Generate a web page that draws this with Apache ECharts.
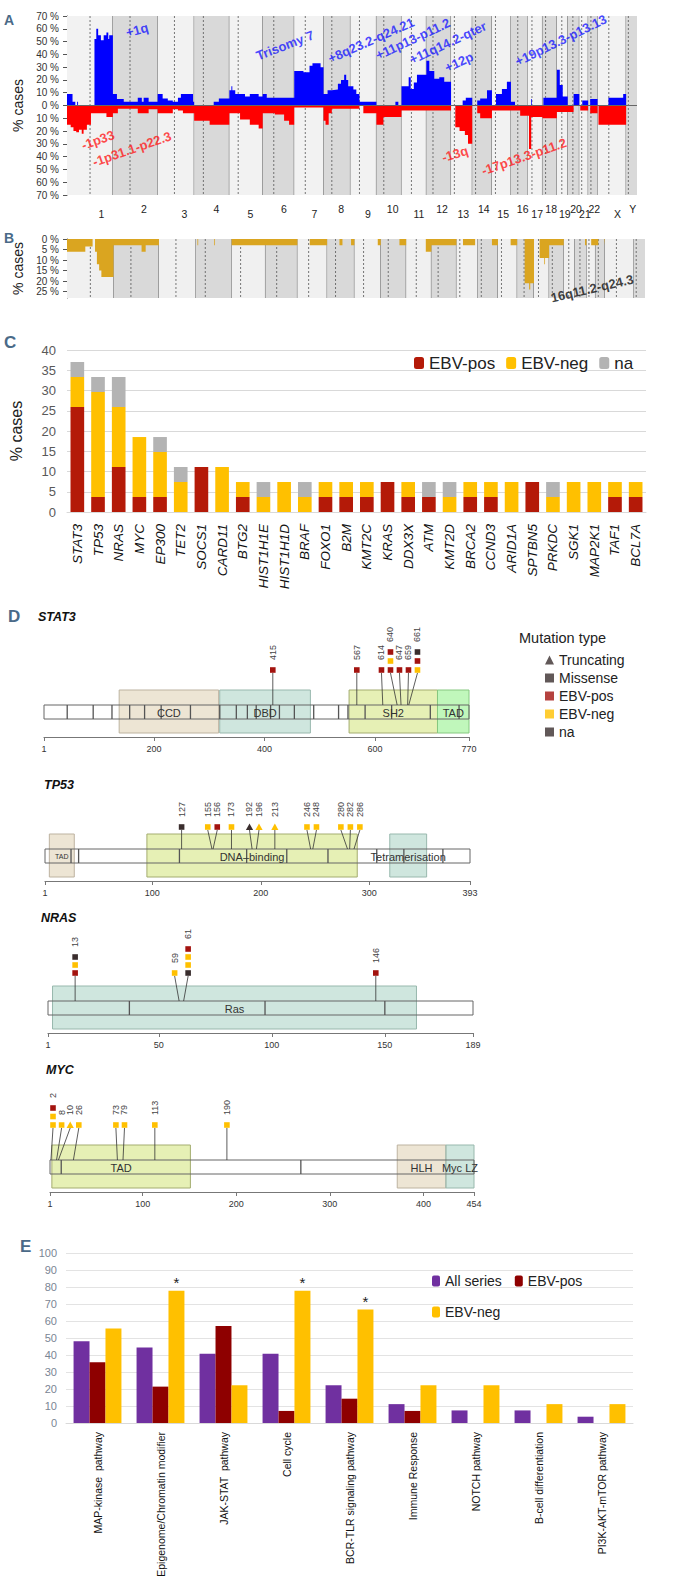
<!DOCTYPE html>
<html><head><meta charset="utf-8">
<script src="https://cdn.jsdelivr.net/npm/echarts@6.0.0/dist/echarts.min.js"></script>
<style>html,body{margin:0;padding:0;background:#fff}#main{width:674px;height:1589px}</style>
</head><body><div id="main"></div>
<script>
// ================= DATA =================
// Panel A / B : genome layout (Mb)
const chromNames = ['1','2','3','4','5','6','7','8','9','10','11','12','13','14','15','16','17','18','19','20','21','22','X','Y'];
const chromLengthsMb = [249,243,198,191,181,171,159,146,141,136,135,134,115,107,103,90,81,78,59,63,48,51,155,59];
const centromeresMb = [125,93,91,50,48,60,60,45,49,40,54,36,18,18,19,37,24,17,27,28,13,15,61,12];

// Panel A gains: per chromosome [startMb, endMb, % cases]
const gainSegments = [
 [[0,30,9],[30,45,3],[55,60,3],[149,159,52],[159,169,60],[169,184,55],[184,199,51],[199,214,55],[214,224,57],[224,229,52],[229,249,55]],
 [[0,22,9],[22,59,5],[59,135,3],[135,157,6],[157,167,3],[167,194,6],[194,243,3]],
 [[0,27,9],[27,55,5.5],[55,82,4],[82,110,3],[110,126,6],[126,192,9],[192,198,3]],
 [[106,134,3],[134,191,5.5]],
 [[0,11,12],[11,16,15],[16,32,12],[32,85,9],[85,111,7],[111,159,9],[159,181,7]],
 [[0,22,9],[22,171,6]],
 [[0,50,27],[50,83,26],[83,99,31],[99,143,33],[143,159,30]],
 [[0,22,9],[22,45,12],[45,78,12.5],[78,95,17],[95,112,20],[112,123,24],[123,134,20],[134,146,15]],
 [[0,16,15],[16,32,12.5],[32,49,9],[49,141,3]],
 [[103,119,3]],
 [[0,39,15],[39,50,22],[50,67,13],[67,84,18],[84,135,24]],
 [[0,16,35],[16,43,27],[43,70,21],[70,97,22],[97,134,18.5]],
 [[63,80,4],[80,115,6]],
 [[27,43,4],[43,80,5.5],[80,107,12]],
 [[22,54,9],[54,81,13],[81,103,18.5]],
 [[0,22,3]],
 [[20,24,5]],
 [[5,78,6]],
 [[0,16,28],[16,32,16],[32,59,7]],
 [[32,63,9]],
 [[16,48,4]],
 [[11,51,5]],
 [[59,139,6],[139,155,9]],
 []
];
// Panel A losses: per chromosome [startMb, endMb, % cases]
const lossSegments = [
 [[0,20,15],[20,35,17],[35,50,20],[50,65,21],[65,80,19],[80,90,22],[90,108,19],[108,130,15],[130,214,6],[214,249,9]],
 [[0,27,6],[27,135,2.5],[135,194,6],[194,243,3]],
 [[0,82,6],[82,110,3],[110,137,4],[137,198,6]],
 [[0,84,12],[84,191,15]],
 [[0,58,6],[58,111,11],[111,159,15],[159,181,18]],
 [[0,66,6],[66,116,7],[116,143,12],[143,171,15]],
 [[0,159,1.5]],
 [[0,11,12],[11,28,15],[28,45,6],[45,146,2.5]],
 [[0,49,2.5],[70,141,6]],
 [[0,38,15],[38,136,9]],
 [[0,135,4]],
 [[0,134,4]],
 [[23,46,17],[46,75,20],[75,92,23],[92,115,30]],
 [[27,43,6],[43,107,10]],
 [[0,103,4]],
 [[0,50,4],[50,90,8]],
 [[0,8,8],[8,20,34],[20,81,9]],
 [[0,78,10]],
 [[0,59,5]],
 [[0,32,5]],
 [[5,48,4]],
 [[11,51,6]],
 [[5,155,15]],
 []
];
// Panel A annotations: [text, genomeMb, %cases, angle, kind]
const aAnnotations = [
 ['+1q',380,59,15,'gain'],
 ['Trisomy 7',1183,47,21,'gain'],
 ['+8q23.2-q24.21',1650,51,24,'gain'],
 ['+11p13-p11.2',1877,52,25,'gain'],
 ['+11q14.2-qter',2067,49,25,'gain'],
 ['+12p',2127,34,25,'gain'],
 ['+19p13.3-p13.13',2680,51,26,'gain'],
 ['-1p33',168,-27,20,'loss'],
 ['-1p31.1-p22.3',353,-34,19,'loss'],
 ['-13q',2105,-38,17,'loss'],
 ['-17p13.3-p11.2',2480,-40,19,'loss']
];
// Panel B segments: per chromosome [startMb, endMb, % cases]
const bSegments = [
 [[0,98,6],[98,137,3.5],[150,160,6],[160,172,12],[172,184,15],[184,249,18]],
 [[0,150,3],[150,172,6],[172,243,3]],
 [],
 [[8,12,3],[98,102,3]],
 [[0,181,3]],
 [[0,171,3]],
 [[66,159,3]],
 [[66,82,3],[128,146,3]],
 [[125,141,3]],
 [[100,136,3]],
 [[105,135,6]],
 [[0,134,3]],
 [[35,100,3]],
 [[75,107,3]],
 [[68,103,3]],
 [[40,64,21],[64,70,24],[70,90,21]],
 [[30,55,9],[55,59,12],[59,81,9]],
 [[0,78,3]],
 [],
 [[55,63,3]],
 [[25,48,3]],
 [[0,15,3],[48,51,3]],
 [],
 []
];
const bAnnotation = ['16q11.2-q24.3',2810,23.5,13];
const bTicks = [0,5,10,15,20,25];

// Panel C
const cGenes = ['STAT3','TP53','NRAS','MYC','EP300','TET2','SOCS1','CARD11','BTG2','HIST1H1E','HIST1H1D','BRAF','FOXO1','B2M','KMT2C','KRAS','DDX3X','ATM','KMT2D','BRCA2','CCND3','ARID1A','SPTBN5','PRKDC','SGK1','MAP2K1','TAF1','BCL7A'];
const cEbvPos = [25.93,3.70,11.11,3.70,3.70,0,11.11,0,3.70,0,0,0,3.70,3.70,3.70,7.41,3.70,3.70,0,3.70,3.70,0,7.41,0,0,0,3.70,3.70];
const cEbvNeg = [7.41,25.93,14.81,14.81,11.11,7.41,0,11.11,3.70,3.70,7.41,3.70,3.70,3.70,3.70,0,3.70,0,3.70,3.70,3.70,7.41,0,3.70,7.41,7.41,3.70,3.70];
const cNa     = [3.70,3.70,7.41,0,3.70,3.70,0,0,0,3.70,0,3.70,0,0,0,0,0,3.70,3.70,0,0,0,0,3.70,0,0,0,0];

// Panel D : proteins
const stat3Exons = [43,90,124,156,183,213,266,319,349,369,385,411,427,454,489,534,551,582,630,700,752];
const stat3Domains = [['CCD',137,317,'beige'],['DBD',319,483,'teal'],['SH2',553,713,'lime'],['TAD',713,770,'green']];
const stat3Mutations = [[415,['sq-pos']],[567,['sq-pos']],[614,['sq-pos']],[640,['sq-pos','sq-neg','sq-pos']],[647,['sq-pos']],[659,['sq-pos']],[661,['sq-neg','sq-pos','sq-na']]];
const stat3Ticks = [1,200,400,600,770];

const tp53Exons = [25,32,125,187,224,262,307,332,368];
const tp53Domains = [['TAD',5,28,'beige'],['DNA\u2013binding',95,289,'lime'],['Tetramerisation',319,353,'teal']];
const tp53Mutations = [[127,['sq-na']],[155,['sq-neg']],[156,['sq-pos']],[173,['sq-neg']],[192,['tri-na']],[196,['tri-neg']],[213,['tri-neg']],[246,['sq-neg']],[248,['sq-neg']],[280,['sq-neg']],[282,['sq-neg']],[286,['sq-neg']]];
const tp53Ticks = [1,100,200,300,393];

const nrasExons = [37,97,150];
const nrasDomains = [['Ras',3,164,'teal']];
const nrasMutations = [[13,['sq-pos','sq-neg','sq-na']],[59,['sq-neg']],[61,['sq-na','sq-neg','sq-neg','sq-pos']],[146,['sq-pos']]];
const nrasTicks = [1,50,100,150,189];

const mycExons = [13,269];
const mycDomains = [['TAD',3,151,'lime'],['HLH',372,424,'beige'],['Myc LZ',424,454,'teal']];
const mycMutations = [[2,['sq-neg','sq-neg','sq-pos']],[8,['sq-neg']],[10,['tri-neg']],[26,['sq-neg']],[73,['sq-neg']],[79,['sq-neg']],[113,['sq-neg']],[190,['sq-neg']]];
const mycTicks = [1,100,200,300,400,454];

const proteinNames = ['STAT3','TP53','NRAS','MYC'];
const proteinLengths = [770,393,189,454];
const mutationLegend = ['Truncating','Missense','EBV-pos','EBV-neg','na'];

// Panel E
const eCategories = ['MAP-kinase  pathway','Epigenome/Chromatin modifier','JAK-STAT  pathway','Cell cycle','BCR-TLR signaling pathway','Immune Response','NOTCH pathway','B-cell differentiation','PI3K-AKT-mTOR pathway'];
const eAllSeries = [48.1,44.4,40.7,40.7,22.2,11.1,7.4,7.4,3.7];
const eEbvPos = [35.7,21.4,57.1,7.1,14.3,7.1,0,0,0];
const eEbvNeg = [55.6,77.8,22.2,77.8,66.7,22.2,22.2,11.1,11.1];
const eSignificant = [false,true,false,true,true,false,false,false,false];

// ================= LAYOUT / STYLE =================
const FONT = 'Liberation Sans, Arial, sans-serif';
const NARROW = 'Liberation Sans Narrow, Liberation Sans, Arial, sans-serif';
const GAIN = '#0000ff', LOSS = '#ff0000', GOLD = '#daa520';
const C_POS = '#b41a08', C_NEG = '#ffc000', C_NA = '#b3b3b3';
const M_COL = {pos:'#a3130f', neg:'#ffc000', na:'#3a2e2e'};
const domainFill = {beige:'rgba(220,204,170,0.5)', teal:'rgba(160,205,190,0.5)', lime:'rgba(210,228,120,0.55)', green:'rgba(130,240,120,0.5)'};
const domainStroke = {beige:'#bdb3a0', teal:'#98b8ad', lime:'#a4ad70', green:'#86c880'};
const proteinLayout = [
  {left:44, right:469, axisY:737, rise:67, step:9, spread:9},
  {left:45, right:470, axisY:881, rise:54, step:9, spread:9.5},
  {left:48, right:473, axisY:1033, rise:60, step:8, spread:13.5},
  {left:50, right:474, axisY:1192, rise:67, step:8.5, spread:8.6}
];
const proteinSpecs = [
  {len:proteinLengths[0], exons:stat3Exons, domains:stat3Domains, muts:stat3Mutations, ticks:stat3Ticks},
  {len:proteinLengths[1], exons:tp53Exons, domains:tp53Domains, muts:tp53Mutations, ticks:tp53Ticks},
  {len:proteinLengths[2], exons:nrasExons, domains:nrasDomains, muts:nrasMutations, ticks:nrasTicks},
  {len:proteinLengths[3], exons:mycExons, domains:mycDomains, muts:mycMutations, ticks:mycTicks}
];
const domainLabelSize = {'1:TAD':7};

// ================= HELPERS =================
const chromStart = []; let acc = 0;
chromLengthsMb.forEach(l => { chromStart.push(acc); acc += l; });
const genomeLen = acc;
const qMid = chromLengthsMb.map((l,i) => chromStart[i] + (centromeresMb[i] + l) / 2);
const oddVals = qMid.filter((v,i) => i % 2 === 0);
const evenVals = qMid.filter((v,i) => i % 2 === 1);
function chromLabel(v){ let b=0, d=1e9; qMid.forEach((q,i)=>{ if(Math.abs(q-v)<d){d=Math.abs(q-v); b=i;} }); return chromNames[b]; }

function profile(segs, sign){
  const pts = [[0,0]]; let last = 0;
  segs.forEach((list, ci) => list.forEach(([s,e,v]) => {
    const gs = chromStart[ci] + s, ge = chromStart[ci] + e;
    if (gs > last + 1e-9) { pts.push([last,0],[gs,0]); }
    pts.push([gs,sign*v],[ge,sign*v]);
    last = ge;
  }));
  pts.push([last,0],[genomeLen,0]);
  return pts;
}

function chromBg(light, dark){
  return function(params, api){
    const i = params.dataIndex, cs = params.coordSys;
    const x0 = api.coord([chromStart[i], 0])[0];
    const x1 = api.coord([chromStart[i] + chromLengthsMb[i], 0])[0];
    const xc = api.coord([chromStart[i] + centromeresMb[i], 0])[0];
    const ch = [
      {type:'rect', shape:{x:x0, y:cs.y, width:x1-x0, height:cs.height}, style:{fill: i%2 ? dark : light}},
      {type:'line', shape:{x1:xc, y1:cs.y, x2:xc, y2:cs.y+cs.height}, style:{stroke:'#555', lineWidth:0.8, lineDash:[2,2]}}
    ];
    if (i < chromNames.length - 1) ch.push({type:'line', shape:{x1:x1, y1:cs.y, x2:x1, y2:cs.y+cs.height}, style:{stroke:'#555', lineWidth:0.9}});
    return {type:'group', children:ch};
  };
}

function spreadPositions(xs, d, lo){
  const cl = [];
  const startOf = c => Math.max(c.sumAdj / c.n, c.first === 0 ? lo : -Infinity);
  xs.forEach((x,i) => {
    let c = {first:i, n:1, sumAdj:x};
    while (cl.length){
      const p = cl[cl.length-1];
      if (startOf(p) + p.n * d > startOf(c)) {
        c = {first:p.first, n:p.n + c.n, sumAdj:p.sumAdj + c.sumAdj - c.n * p.n * d};
        cl.pop();
      } else break;
    }
    cl.push(c);
  });
  const out = [];
  cl.forEach(c => { const s = startOf(c); for (let k=0;k<c.n;k++) out.push(s + k*d); });
  return out;
}

function proteinRenderer(k){
  const P = proteinSpecs[k], L = proteinLayout[k];
  return function(params, api){
    const cs = params.coordSys;
    const Ya = cs.y + cs.height;
    const X = a => api.coord([a, 0])[0];
    const bbTop = Ya - 32, bbH = 14, boxTop = Ya - 47, boxH = 43;
    const ch = [];
    ch.push({type:'rect', shape:{x:X(1), y:bbTop, width:X(P.len)-X(1), height:bbH}, style:{fill:'#fff'}});
    P.domains.forEach(d => ch.push({type:'rect', shape:{x:X(d[1]), y:boxTop, width:X(d[2])-X(d[1]), height:boxH}, style:{fill:domainFill[d[3]], stroke:domainStroke[d[3]], lineWidth:1}}));
    ch.push({type:'rect', shape:{x:X(1), y:bbTop, width:X(P.len)-X(1), height:bbH}, style:{fill:'none', stroke:'#666', lineWidth:1}});
    P.exons.forEach(e => ch.push({type:'line', shape:{x1:X(e), y1:bbTop, x2:X(e), y2:bbTop+bbH}, style:{stroke:'#555', lineWidth:1.3}}));
    P.domains.forEach(d => ch.push({type:'text', style:{text:d[0], x:(X(d[1])+X(d[2]))/2, y:bbTop+bbH/2+0.5, align:'center', verticalAlign:'middle', fontSize:domainLabelSize[k+':'+d[0]] || 11, fontFamily:NARROW, fill:'#333'}}));
    const tx = P.muts.map(m => X(m[0]));
    const sx = spreadPositions(tx, L.spread, X(1) + 3);
    const base = Ya - L.rise;
    P.muts.forEach((m,j) => {
      ch.push({type:'line', shape:{x1:sx[j], y1:base+3, x2:tx[j], y2:bbTop}, style:{stroke:'#333', lineWidth:0.8}});
      m[1].forEach((code,r) => {
        const [shape, col] = code.split('-');
        const cy = base - r * L.step;
        if (shape === 'tri') ch.push({type:'polygon', shape:{points:[[sx[j],cy-3.5],[sx[j]+3.6,cy+3],[sx[j]-3.6,cy+3]]}, style:{fill:M_COL[col]}});
        else ch.push({type:'rect', shape:{x:sx[j]-2.8, y:cy-2.8, width:5.6, height:5.6}, style:{fill:M_COL[col]}});
      });
      const topY = base - (m[1].length - 1) * L.step;
      ch.push({type:'text', x:sx[j], y:topY - 10, rotation:Math.PI/2, style:{text:String(m[0]), x:0, y:0, align:'left', verticalAlign:'middle', fontSize:9, fontFamily:FONT, fill:'#444'}});
    });
    return {type:'group', children:ch};
  };
}

// ================= OPTION =================
const grids = [
  {left:67, right:37, top:16, height:179},          // A
  {left:67, right:29, top:239, height:59},          // B
  {left:67, right:28, top:350, height:162},         // C
];
proteinLayout.forEach(L => grids.push({left:L.left, width:L.right-L.left, top:L.axisY-110, height:110}));
grids.push({left:66, right:41, top:1253, height:170}); // E

const chromLabelStyle = {fontSize:10.5, color:'#222', fontFamily:NARROW, hideOverlap:false};
const xAxes = [
  {gridIndex:0, type:'value', position:'bottom', min:0, max:genomeLen, axisLine:{show:false, onZero:false}, axisTick:{show:false}, splitLine:{show:false},
   axisLabel:Object.assign({customValues:oddVals, formatter:chromLabel, margin:13}, chromLabelStyle)},
  {gridIndex:0, type:'value', position:'bottom', min:0, max:genomeLen, axisLine:{show:false, onZero:false}, axisTick:{show:false}, splitLine:{show:false},
   axisLabel:Object.assign({customValues:evenVals, formatter:chromLabel, margin:8}, chromLabelStyle)},
  {gridIndex:1, type:'value', min:0, max:genomeLen, show:false},
  {gridIndex:2, type:'category', data:cGenes, axisTick:{show:false}, axisLine:{lineStyle:{color:'#d9d9d9'}},
   axisLabel:{rotate:90, interval:0, fontStyle:'italic', fontSize:13.5, color:'#111', margin:12, fontFamily:FONT}}
];
proteinSpecs.forEach((P,k) => xAxes.push({gridIndex:3+k, type:'value', min:1, max:P.len,
  axisLine:{show:true, lineStyle:{color:'#777', width:1.2}}, splitLine:{show:false},
  axisTick:{show:true, customValues:P.ticks, length:4, lineStyle:{color:'#777'}},
  axisLabel:{customValues:P.ticks, fontSize:9, color:'#333', margin:7, fontFamily:FONT, hideOverlap:false}}));
xAxes.push({gridIndex:7, type:'category', data:eCategories, axisTick:{show:false}, axisLine:{lineStyle:{color:'#d9d9d9'}},
  axisLabel:{rotate:90, interval:0, fontSize:10.5, color:'#111', margin:9, fontFamily:FONT}});

const yAxes = [
  {gridIndex:0, type:'value', min:-70, max:70, interval:10, splitLine:{show:false},
   axisLine:{show:true, lineStyle:{color:'#555'}}, axisTick:{show:true, length:4, lineStyle:{color:'#555'}},
   axisLabel:{formatter:v => Math.abs(v) + ' %', fontSize:10, color:'#333', margin:8, fontFamily:FONT, hideOverlap:false},
   name:'% cases', nameLocation:'middle', nameGap:42, nameTextStyle:{fontSize:14, color:'#222', fontFamily:FONT}},
  {gridIndex:1, type:'value', min:0, max:28, inverse:true, splitLine:{show:false},
   axisLine:{show:true, lineStyle:{color:'#555'}}, axisTick:{show:true, length:4, customValues:bTicks, lineStyle:{color:'#555'}},
   axisLabel:{customValues:bTicks, formatter:v => v + ' %', fontSize:10, color:'#333', margin:8, fontFamily:FONT, hideOverlap:false},
   name:'% cases', nameLocation:'middle', nameGap:42, nameTextStyle:{fontSize:14, color:'#222', fontFamily:FONT}},
  {gridIndex:2, type:'value', min:0, max:40, interval:5, axisLine:{show:false}, axisTick:{show:false},
   splitLine:{lineStyle:{color:'#d9d9d9'}}, axisLabel:{fontSize:13, color:'#595959', margin:11, fontFamily:FONT},
   name:'% cases', nameLocation:'middle', nameGap:43, nameTextStyle:{fontSize:16, color:'#222', fontFamily:FONT}}
];
proteinSpecs.forEach((P,k) => yAxes.push({gridIndex:3+k, type:'value', min:0, max:1, show:false}));
yAxes.push({gridIndex:7, type:'value', min:0, max:100, interval:10, axisLine:{show:false}, axisTick:{show:false},
  splitLine:{lineStyle:{color:'#e3e3e3'}}, axisLabel:{fontSize:11, color:'#7a8594', margin:9, fontFamily:FONT}});

const series = [];
// A
series.push({type:'custom', xAxisIndex:0, yAxisIndex:0, silent:true, z:1, data:chromNames.map((n,i)=>[chromStart[i],0]), renderItem:chromBg('#f2f2f2','#d9d9d9')});
series.push({type:'line', name:'gain', xAxisIndex:0, yAxisIndex:0, data:profile(gainSegments,1), showSymbol:false, silent:true, z:3,
  lineStyle:{width:0}, areaStyle:{color:GAIN, opacity:1},
  markLine:{silent:true, symbol:['none','none'], label:{show:false}, lineStyle:{color:'#666', width:1, type:'solid'}, data:[{yAxis:0}]}});
series.push({type:'line', name:'loss', xAxisIndex:0, yAxisIndex:0, data:profile(lossSegments,-1), showSymbol:false, silent:true, z:3,
  lineStyle:{width:0}, areaStyle:{color:LOSS, opacity:1}});
series.push({type:'scatter', xAxisIndex:0, yAxisIndex:0, silent:true, z:5, symbolSize:1, itemStyle:{color:'transparent'},
  data:aAnnotations.map(a => ({value:[a[1],a[2]], label:{show:true, position:'inside', formatter:a[0], rotate:a[3],
    color:a[4]==='gain' ? '#1a1aff' : '#ff1a1a', fontSize:13, fontWeight:'bold', fontFamily:FONT}}))});
// B
series.push({type:'custom', xAxisIndex:2, yAxisIndex:1, silent:true, z:1, data:chromNames.map((n,i)=>[chromStart[i],0]), renderItem:chromBg('#f0f0f0','#d9d9d9')});
series.push({type:'line', xAxisIndex:2, yAxisIndex:1, data:profile(bSegments,1), showSymbol:false, silent:true, z:3,
  lineStyle:{width:0}, areaStyle:{color:GOLD, opacity:1}});
series.push({type:'scatter', xAxisIndex:2, yAxisIndex:1, silent:true, z:5, symbolSize:1, itemStyle:{color:'transparent'},
  data:[{value:[bAnnotation[1],bAnnotation[2]], label:{show:true, position:'inside', formatter:bAnnotation[0], rotate:bAnnotation[3], color:'#111', fontSize:13, fontWeight:'bold', fontFamily:FONT}}]});
// C
[['EBV-pos',cEbvPos,C_POS],['EBV-neg',cEbvNeg,C_NEG],['na',cNa,C_NA]].forEach(([n,d,c]) =>
  series.push({type:'bar', name:n, xAxisIndex:3, yAxisIndex:2, stack:'c', data:d, itemStyle:{color:c}, barCategoryGap:'34%', silent:true}));
// D
proteinSpecs.forEach((P,k) => series.push({type:'custom', xAxisIndex:4+k, yAxisIndex:3+k, silent:true, clip:false, data:[[1,0]], renderItem:proteinRenderer(k)}));
[['D-Truncating','triangle',M_COL.na],['D-Missense','rect',M_COL.na],['D-EBV-pos','rect',M_COL.pos],['D-EBV-neg','rect',M_COL.neg],['D-na','rect',M_COL.na]].forEach(([n,ic,c]) =>
  series.push({type:'scatter', name:n, xAxisIndex:4, yAxisIndex:3, data:[], itemStyle:{color:c}, symbol:ic}));
// E
[['All series',eAllSeries,'#7030a0'],['E-EBV-pos',eEbvPos,'#8e0000'],['E-EBV-neg',eEbvNeg,'#ffc000']].forEach(([n,d,c],i) =>
  series.push({type:'bar', name:n, xAxisIndex:8, yAxisIndex:7, data:d, itemStyle:{color:c}, barGap:0, barCategoryGap:'24%', silent:true,
    label: i===2 ? {show:true, position:'top', distance:1, formatter:p => eSignificant[p.dataIndex] ? '*' : '', fontSize:15, color:'#222', fontFamily:FONT} : {show:false}}));

const strip = n => n.replace(/^[DE]-/, '');
const legends = [
  {data:['EBV-pos','EBV-neg','na'], left:409, top:349, itemWidth:10, itemHeight:12, itemGap:11, selectedMode:false,
   textStyle:{fontSize:17, color:'#222', fontFamily:NARROW, lineHeight:18}},
  {data:mutationLegend.map((n,i)=>({name:'D-'+n, icon: i===0 ? 'triangle' : 'rect'})), orient:'vertical', left:540, top:648,
   itemWidth:9, itemHeight:9, itemGap:4, selectedMode:false, formatter:strip,
   textStyle:{fontSize:14, color:'#222', fontFamily:FONT, lineHeight:14}},
  {data:['All series','E-EBV-pos'], left:427, top:1268, itemWidth:8, itemHeight:11, itemGap:13, selectedMode:false, formatter:strip,
   textStyle:{fontSize:14, color:'#222', fontFamily:NARROW, lineHeight:16}},
  {data:['E-EBV-neg'], left:427, top:1299, itemWidth:8, itemHeight:11, selectedMode:false, formatter:strip,
   textStyle:{fontSize:14, color:'#222', fontFamily:NARROW, lineHeight:16}}
];

const letter = (t, x, y, s) => ({type:'text', left:x, top:y, style:{text:t, fontSize:s, fontWeight:'bold', fontFamily:NARROW, fill:'#4a6a88'}});
const geneTitle = (t, x, y) => ({type:'text', left:x, top:y, style:{text:t, fontSize:12.5, fontWeight:'bold', fontStyle:'italic', fontFamily:NARROW, fill:'#111'}});
const graphics = [
  letter('A',4,13,14), letter('B',4,231,14), letter('C',4,334,17), letter('D',8,608,17), letter('E',20,1238,17),
  geneTitle(proteinNames[0],38,610), geneTitle(proteinNames[1],44,778), geneTitle(proteinNames[2],41,911), geneTitle(proteinNames[3],46,1063),
  {type:'text', left:519, top:630, style:{text:'Mutation type', fontSize:14.5, fontFamily:FONT, fill:'#222'}}
];

const chart = echarts.init(document.getElementById('main'), null, {renderer:'svg'});
chart.setOption({
  animation:false,
  textStyle:{fontFamily:FONT},
  grid:grids, xAxis:xAxes, yAxis:yAxes, series:series, legend:legends, graphic:graphics
});
</script></body></html>
